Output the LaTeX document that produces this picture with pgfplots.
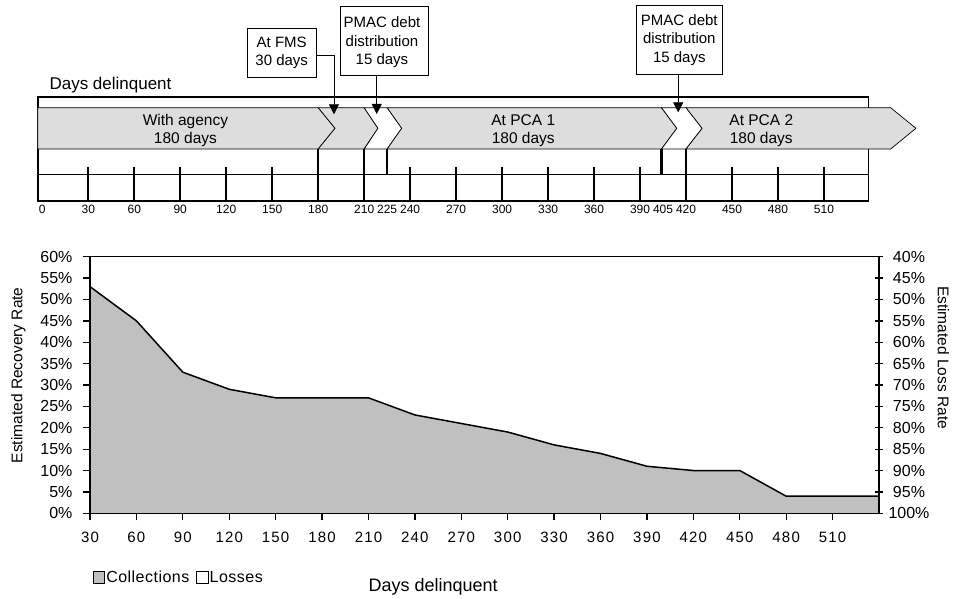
\documentclass[border=0pt]{standalone}
\usepackage{fontspec}
\setmainfont{Liberation Sans}
\newfontfamily\spacedfont[LetterSpace=8]{Liberation Sans}
\newfontfamily\legendfont[LetterSpace=3]{Liberation Sans}
\usepackage{pgfplots}
\pgfplotsset{compat=1.18}
\usetikzlibrary{arrows.meta}
\definecolor{areagray}{RGB}{192,192,192}
\definecolor{bandgray}{RGB}{221,221,221}
\newcommand{\fs}[2]{\fontsize{#1}{#2}\selectfont}

\begin{document}
\begin{tikzpicture}
\path[use as bounding box] (0,0) rectangle (962pt,598pt);

% --- timeline of the collection stages (x in days) ---
\begin{axis}[
  at={(26.97pt,397pt)}, anchor=south west,
  scale only axis, width=904.3pt, height=201pt,
  xmin=-10, xmax=580, ymin=0, ymax=201,
  clip=false,
  axis line style={draw=none},
  tick style={draw=none}, major tick length=0pt,
  ytick=\empty,
  xtick={0,30,60,90,120,150,180,210,225,240,270,300,330,360,390,405,420,450,480,510},
  xticklabel style={font=\fs{12}{12}, yshift=-1pt},
  /pgf/number format/assume math mode=true,
]
\draw[line width=1.8pt] (-3,0) rectangle (539,104.3);
\draw[line width=1.5pt] (-2,26.7) -- (539,26.7);
\pgfplotsinvokeforeach{30,60,90,120,270,300,330,360,390,450,480,510}{
  \draw[line width=1.6pt] (#1,0) -- (#1,34.3);
}
\pgfplotsinvokeforeach{150,240}{
  \draw[line width=2.4pt] (#1,0) -- (#1,34.3);
}
\pgfplotsinvokeforeach{180,210,420}{
  \draw[line width=1.6pt] (#1,0) -- (#1,52);
}
\draw[line width=1.6pt] (225,26.7) -- (225,52);
\draw[line width=2.6pt] (404,26.7) -- (404,52);

% stage chevrons
\filldraw[fill=bandgray, line width=0.7pt] (-3,93.3) -- (180,93.3) -- (191,72.7) -- (180,52) -- (-3,52) -- cycle;
\filldraw[fill=bandgray, line width=0.7pt] (180,93.3) -- (210,93.3) -- (219,72.7) -- (210,52) -- (180,52) -- (191,72.7) -- cycle;
\filldraw[fill=white, line width=0.7pt] (210,93.3) -- (225,93.3) -- (234.5,72.7) -- (225,52) -- (210,52) -- (219,72.7) -- cycle;
\filldraw[fill=bandgray, line width=0.7pt] (225,93.3) -- (404,93.3) -- (414,72.7) -- (404,52) -- (225,52) -- (234.5,72.7) -- cycle;
\filldraw[fill=white, line width=0.7pt] (404,93.3) -- (420,93.3) -- (430.5,72.7) -- (420,52) -- (404,52) -- (414,72.7) -- cycle;
\filldraw[fill=bandgray, line width=0.7pt] (420,93.3) -- (553.5,93.3) -- (570,72.7) -- (553.5,52) -- (420,52) -- (430.5,72.7) -- cycle;

\node[align=center, font=\fs{15.5}{17.6}] at (93.4,70.5) {With agency\\180 days};
\node[align=center, font=\fs{15.5}{17.6}] at (313.8,70.5) {At PCA 1\\180 days};
\node[align=center, font=\fs{15.5}{17.6}] at (469.1,70.5) {At PCA 2\\180 days};
\node[anchor=base west, font=\fs{17}{17}, inner sep=0pt] at (4.6,111.7) {Days delinquent};

% callouts
\draw[fill=white, line width=0.8pt] (133.75,123.7) rectangle (178.6,172.7);
\node[align=center, font=\fs{15}{17.5}] at (156.2,148.2) {At FMS\\30 days};
\draw[line width=0.8pt, -{Triangle[width=10pt,length=10pt]}] (178.6,146) -- (190.3,146) -- (190.3,86.7);

\draw[fill=white, line width=0.8pt] (194.2,126) rectangle (251.8,195);
\node[align=center, font=\fs{15}{18.5}] at (221.6,158.5) {PMAC debt\\distribution\\15 days};
\draw[line width=0.8pt, -{Triangle[width=10pt,length=10pt]}] (218.2,126) -- (218.2,87);

\draw[fill=white, line width=0.8pt] (387.4,127) rectangle (443.9,196);
\node[align=center, font=\fs{15}{18.5}] at (415.6,161) {PMAC debt\\distribution\\15 days};
\draw[line width=0.8pt, -{Triangle[width=10pt,length=10pt]}] (414.9,127) -- (414.9,88.7);
\end{axis}

% --- recovery rate chart ---
\begin{axis}[
  at={(90pt,84.7pt)}, anchor=south west,
  scale only axis, width=789pt, height=256.6pt,
  xmin=30, xmax=540, ymin=0, ymax=60,
  axis on top,
  axis line style={line width=1.5pt},
  xtick={30,60,...,510}, ytick={0,5,...,60},
  xtick pos=bottom, ytick pos=left,
  tick align=outside, major tick length=7pt,
  tick style={line width=1.3pt, black},
  yticklabel={\pgfmathprintnumber{\tick}\%},
  xticklabel style={font=\spacedfont\fs{15}{15}, yshift=-8pt},
  yticklabel style={font=\fs{16}{16}, xshift=-7pt},
  /pgf/number format/assume math mode=true,
  xlabel={Days delinquent},
  every axis x label/.style={at={(axis description cs:0.435,-0.286)}, anchor=center, font=\fs{18}{18}},
  ylabel={Estimated Recovery Rate},
  every axis y label/.style={at={(axis description cs:-0.0909,0.538)}, anchor=center, rotate=90, font=\fs{15.5}{15.5}},
  legend columns=2,
  legend image code/.code={\draw[#1, line width=0.8pt] (0pt,-5.8pt) rectangle (11.6pt,5.8pt);},
  legend style={at={(axis description cs:0.0034,-0.2502)}, anchor=west, draw=none, fill=none,
    inner sep=0pt, font=\legendfont\fs{16}{16}, nodes={inner xsep=1pt, inner ysep=1pt},
    /tikz/every even column/.append style={column sep=6pt}},
]
\addplot[fill=areagray, draw=none, forget plot] coordinates {
  (30,53) (60,45) (90,33) (120,29) (150,27) (180,27) (210,27) (240,23) (270,21)
  (300,19) (330,16) (360,14) (390,11) (420,10) (450,10) (480,4) (510,4) (540,4)
} \closedcycle;
\addplot[black, line width=1.5pt, forget plot] coordinates {
  (30,53) (60,45) (90,33) (120,29) (150,27) (180,27) (210,27) (240,23) (270,21)
  (300,19) (330,16) (360,14) (390,11) (420,10) (450,10) (480,4) (510,4) (540,4)
};
\addlegendimage{fill=areagray, draw=black}
\addlegendentry{Collections}
\addlegendimage{fill=white, draw=black}
\addlegendentry{Losses}
\end{axis}

% --- loss rate scale on the right ---
\begin{axis}[
  at={(90pt,84.7pt)}, anchor=south west,
  scale only axis, width=789pt, height=256.6pt,
  xmin=30, xmax=540, ymin=40, ymax=100, y dir=reverse,
  axis x line=none, axis y line*=right,
  axis line style={-, line width=1.5pt},
  ytick={40,45,...,100}, tick align=center, major tick length=8pt,
  tick style={line width=1.3pt, black},
  yticklabel={\pgfmathprintnumber{\tick}\%},
  yticklabel style={font=\fs{16}{16}, anchor=center, xshift=26pt},
  /pgf/number format/assume math mode=true,
  ylabel={Estimated Loss Rate},
  every axis y label/.style={at={(axis description cs:1.0815,0.607)}, anchor=center, rotate=-90, font=\fs{15.5}{15.5}},
]
\addplot[draw=none, forget plot] coordinates {(30,40) (540,100)};
\end{axis}
\end{tikzpicture}
\end{document}
